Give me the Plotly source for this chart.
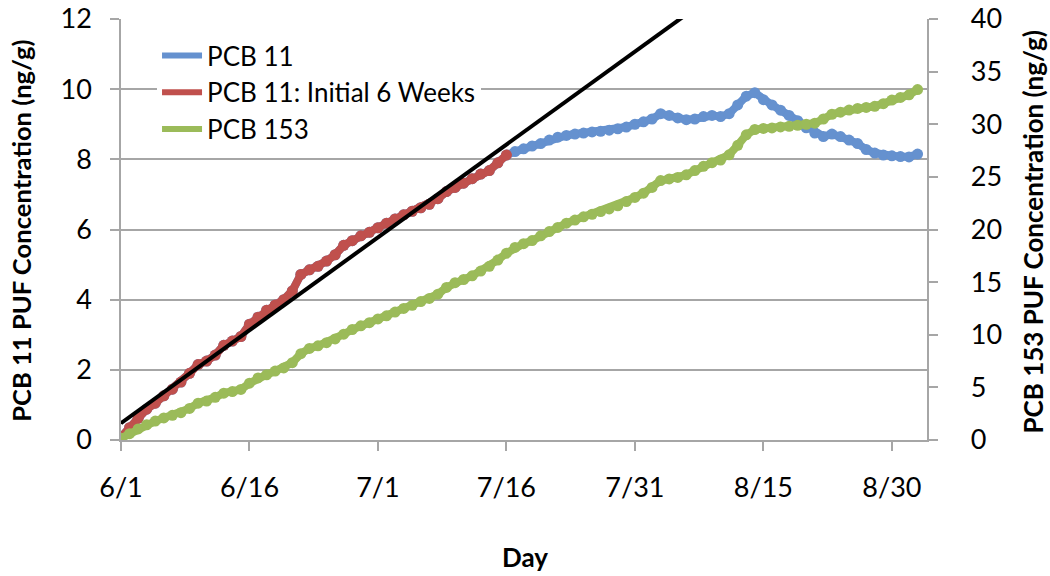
import plotly.graph_objects as go
import pandas as pd

# ---- data ----
start_date = "2010-06-01"

# PCB 11 PUF concentration (ng/g), one value per day from 6/1
pcb11 = [0.08, 0.35, 0.62, 0.88, 1.05, 1.26, 1.45, 1.65, 1.90, 2.15,
         2.25, 2.42, 2.70, 2.82, 2.95, 3.30, 3.50, 3.70, 3.85, 4.00,
         4.25, 4.72, 4.85, 4.95, 5.10, 5.28, 5.55, 5.68, 5.82, 5.92,
         6.05, 6.18, 6.30, 6.42, 6.52, 6.62, 6.72, 6.88, 7.08, 7.20,
         7.32, 7.45, 7.58, 7.68, 7.90, 8.12, 8.22, 8.30, 8.38, 8.45,
         8.55, 8.63, 8.68, 8.72, 8.75, 8.78, 8.80, 8.83, 8.87, 8.92,
         9.00, 9.07, 9.15, 9.30, 9.25, 9.18, 9.13, 9.15, 9.22, 9.25,
         9.22, 9.30, 9.55, 9.80, 9.90, 9.70, 9.55, 9.40, 9.25, 9.10,
         8.90, 8.75, 8.65, 8.72, 8.65, 8.55, 8.45, 8.28, 8.18, 8.12,
         8.10, 8.08, 8.07, 8.15]

# number of daily points in the "Initial 6 Weeks" subset
initial_points = 46

# PCB 153 PUF concentration (ng/g), one value per day from 6/1
pcb153 = [0.16, 0.60, 1.05, 1.45, 1.80, 2.10, 2.35, 2.60, 3.00, 3.50,
          3.70, 4.05, 4.45, 4.60, 4.80, 5.40, 5.90, 6.20, 6.55, 6.85,
          7.35, 8.20, 8.70, 8.95, 9.25, 9.60, 10.05, 10.50, 10.85, 11.15,
          11.50, 11.80, 12.15, 12.50, 12.80, 13.15, 13.45, 13.85, 14.50, 14.95,
          15.25, 15.60, 16.05, 16.50, 17.10, 17.75, 18.30, 18.65, 18.95, 19.40,
          19.80, 20.20, 20.60, 20.90, 21.20, 21.45, 21.70, 21.95, 22.25, 22.65,
          23.05, 23.45, 24.00, 24.65, 24.80, 24.95, 25.20, 25.60, 26.00, 26.35,
          26.60, 27.10, 28.00, 29.00, 29.50, 29.60, 29.65, 29.75, 29.80, 29.90,
          30.00, 30.10, 30.50, 30.95, 31.15, 31.35, 31.50, 31.60, 31.70, 31.95,
          32.30, 32.55, 32.80, 33.30]

# linear fit to the initial 6 weeks (ng/g and ng/g per day)
fit_intercept = 0.48
fit_slope = 0.1765
fit_days = [0, 94]

x_axis_end_days = 94.1
tick_step_days = 15

# ---- figure ----
dates = pd.date_range(start_date, periods=len(pcb11), freq="D")
start = pd.Timestamp(start_date)
fit_dates = [start + pd.Timedelta(days=d) for d in fit_days]
fit_values = [fit_intercept + fit_slope * d for d in fit_days]

c_blue = "#6591CF"
c_red = "#C0504D"
c_green = "#9BBB59"
grid_c = "#A6A6A6"
font_fam = "Lato, sans-serif"

lw = 8
ms = 11

fig = go.Figure()
fig.add_trace(go.Scatter(x=dates, y=pcb11, mode="lines+markers", name="PCB 11",
                         line=dict(color=c_blue, width=lw), marker=dict(color=c_blue, size=ms),
                         showlegend=False))
fig.add_trace(go.Scatter(x=dates[:initial_points], y=pcb11[:initial_points], mode="lines+markers",
                         name="PCB 11: Initial 6 Weeks",
                         line=dict(color=c_red, width=lw), marker=dict(color=c_red, size=ms),
                         showlegend=False))
fig.add_trace(go.Scatter(x=fit_dates, y=fit_values, mode="lines", name="Linear fit",
                         line=dict(color="black", width=4), showlegend=False))
fig.add_trace(go.Scatter(x=dates, y=pcb153, mode="lines+markers", name="PCB 153", yaxis="y2",
                         line=dict(color=c_green, width=lw), marker=dict(color=c_green, size=ms),
                         showlegend=False))

# legend entries
for nm, col in [("PCB 11", c_blue), ("PCB 11: Initial 6 Weeks", c_red), ("PCB 153", c_green)]:
    fig.add_trace(go.Scatter(x=[None], y=[None], mode="lines", name=nm,
                             line=dict(color=col, width=6)))

nb = "\u00a0"

fig.update_layout(
    width=1050, height=576,
    margin=dict(l=121, r=123, t=19, b=136, autoexpand=False),
    paper_bgcolor="white", plot_bgcolor="white",
    font=dict(family=font_fam, size=27, color="black"),
    showlegend=True,
    legend=dict(x=0.0447, y=0.969, xanchor="left", yanchor="top", bgcolor="white",
                font=dict(size=26), traceorder="normal", borderwidth=0, itemwidth=40),
    xaxis=dict(type="date",
               range=[start, start + pd.Timedelta(days=x_axis_end_days)],
               tick0=start, dtick=tick_step_days * 86400000, tickformat="%-m/%-d",
               showgrid=False, showline=True, linecolor=grid_c, linewidth=1.5,
               ticks="outside", ticklen=9, tickcolor=grid_c, tickwidth=1.5,
               ticklabelstandoff=14, zeroline=False, ticklabeloverflow="allow",
               automargin=False, tickfont=dict(size=27)),
    yaxis=dict(range=[0, 12], dtick=2, showgrid=True, gridcolor=grid_c, gridwidth=1.5,
               showline=True, linecolor=grid_c, linewidth=1.5,
               ticks="outside", ticklen=9, tickcolor=grid_c, tickwidth=1.5,
               ticklabelstandoff=13, zeroline=False, ticklabeloverflow="allow",
               automargin=False, tickfont=dict(size=27)),
    yaxis2=dict(range=[0, 40], dtick=5, overlaying="y", side="right", showgrid=False,
                showline=True, linecolor=grid_c, linewidth=1.5,
                ticks="outside", ticklen=9, tickcolor=grid_c, tickwidth=1.5,
                tickprefix=nb * 4, zeroline=False, ticklabeloverflow="allow",
                automargin=False, tickfont=dict(size=27)),
)

fig.add_annotation(text="<b>PCB 11 PUF Concentration (ng/g)</b>", xref="paper", yref="paper",
                   x=-0.1240, y=0.497, xanchor="center", yanchor="middle", textangle=-90,
                   showarrow=False, font=dict(size=25.6))
fig.add_annotation(text="<b>PCB 153 PUF Concentration (ng/g)</b>", xref="paper", yref="paper",
                   x=1.1315, y=0.495, xanchor="center", yanchor="middle", textangle=-90,
                   showarrow=False, font=dict(size=26))
fig.add_annotation(text="<b>Day</b>", xref="paper", yref="paper",
                   x=0.501, y=-0.278, xanchor="center", yanchor="middle",
                   showarrow=False, font=dict(size=26))

fig.write_html("out.html", config={"displayModeBar": False},
               post_script="document.body.style.margin='0';")
